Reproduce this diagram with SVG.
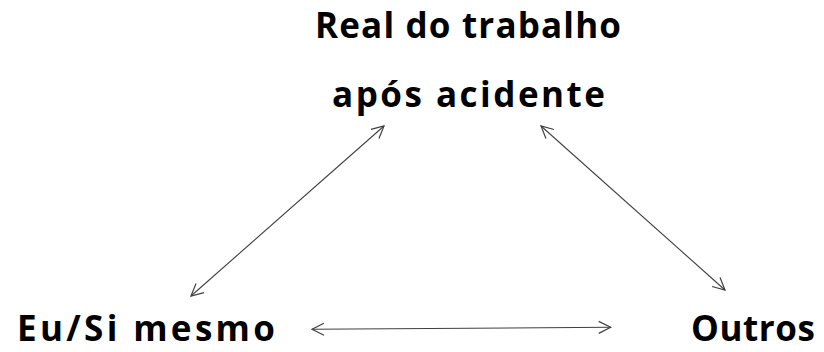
<svg xmlns="http://www.w3.org/2000/svg" width="824" height="352" viewBox="0 0 824 352">
<style>
.lbl{font-family:"Open Sans","Liberation Sans",sans-serif;font-weight:bold;font-size:35px;fill:#000}
.conn{stroke:#404040;stroke-width:1.1;fill:none;marker-start:url(#ah);marker-end:url(#ah)}
</style>
<defs>
<marker id="ah" markerUnits="userSpaceOnUse" viewBox="-13 -8 15 16" refX="0" refY="0" markerWidth="15" markerHeight="16" orient="auto-start-reverse" overflow="visible">
<path d="M-12,-6 L0,0 L-12,6" fill="none" stroke="#404040" stroke-width="1.2"/>
</marker>
</defs>
<rect width="824" height="352" fill="#fff"/>
<g id="connectors">
<line class="conn" x1="191" y1="296" x2="384" y2="126"/>
<line class="conn" x1="541" y1="126" x2="725" y2="290"/>
<line class="conn" x1="312" y1="329.3" x2="610.7" y2="327.3"/>
</g>
<g id="node-real">
<text class="lbl" x="315" y="38" textLength="306">Real do trabalho</text>
<text class="lbl" x="332" y="107" textLength="273">após acidente</text>
</g>
<g id="node-eu">
<text class="lbl" x="17" y="341" textLength="258">Eu/Si mesmo</text>
</g>
<g id="node-outros">
<text class="lbl" x="691" y="341" textLength="124">Outros</text>
</g>
</svg>
